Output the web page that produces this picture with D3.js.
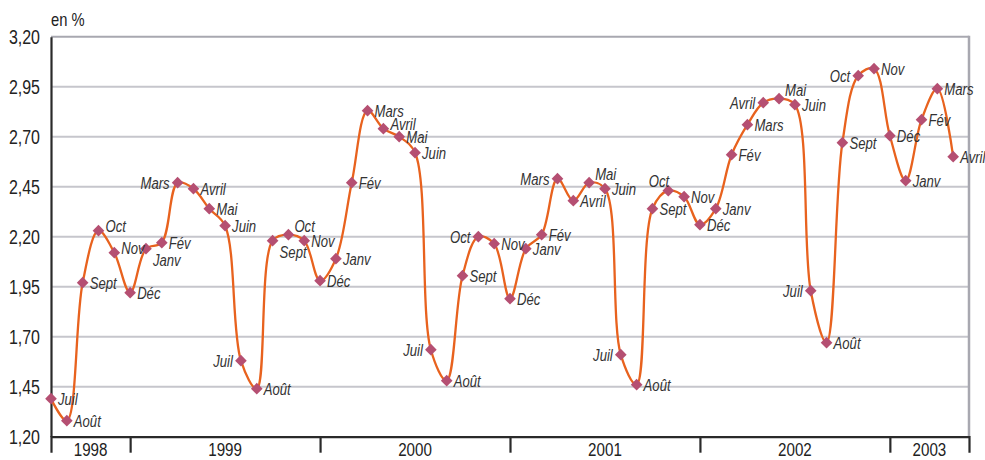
<!DOCTYPE html>
<html>
<head>
<meta charset="utf-8">
<script src="https://cdn.jsdelivr.net/npm/d3@7"></script>
<style>
  body { margin: 0; background: #fff; }
  svg { font-family: "Liberation Sans", Arial, sans-serif; }
</style>
</head>
<body>
<svg width="985" height="460"></svg>
<script>
// monthly values, Juil 1998 -> Avril 2003
const years = ['1998', '1999', '2000', '2001', '2002', '2003'];
const monthsPerYear = [6, 12, 12, 12, 12, 4];
const months = [
  'Juil', 'Août', 'Sept', 'Oct', 'Nov', 'Déc',
  'Janv', 'Fév', 'Mars', 'Avril', 'Mai', 'Juin', 'Juil', 'Août', 'Sept', 'Oct', 'Nov', 'Déc',
  'Janv', 'Fév', 'Mars', 'Avril', 'Mai', 'Juin', 'Juil', 'Août', 'Sept', 'Oct', 'Nov', 'Déc',
  'Janv', 'Fév', 'Mars', 'Avril', 'Mai', 'Juin', 'Juil', 'Août', 'Sept', 'Oct', 'Nov', 'Déc',
  'Janv', 'Fév', 'Mars', 'Avril', 'Mai', 'Juin', 'Juil', 'Août', 'Sept', 'Oct', 'Nov', 'Déc',
  'Janv', 'Fév', 'Mars', 'Avril'
];
const rates = [
  1.39, 1.28, 1.97, 2.23, 2.12, 1.92,
  2.14, 2.17, 2.47, 2.44, 2.34, 2.255, 1.58, 1.44, 2.18, 2.21, 2.18, 1.98,
  2.09, 2.47, 2.83, 2.74, 2.70, 2.62, 1.635, 1.48, 2.005, 2.20, 2.165, 1.89,
  2.14, 2.21, 2.49, 2.38, 2.47, 2.44, 1.61, 1.46, 2.34, 2.43, 2.40, 2.26,
  2.34, 2.61, 2.76, 2.87, 2.89, 2.86, 1.93, 1.67, 2.67, 3.005, 3.04, 2.705,
  2.48, 2.785, 2.94, 2.60
];
const yTicks = [1.20, 1.45, 1.70, 1.95, 2.20, 2.45, 2.70, 2.95, 3.20];

// where each month label sits around its marker
const labelPos = [
  'r', 'r', 'r', 'ru', 'ru', 'r',
  'rd', 'r', 'l', 'r', 'r', 'r', 'l', 'r', 'rd', 'a', 'r', 'r',
  'r', 'r', 'r', 'ru', 'r', 'r', 'l', 'r', 'r', 'l', 'r', 'r',
  'r', 'r', 'l', 'r', 'a', 'r', 'l', 'r', 'r', 'la', 'r', 'r',
  'r', 'r', 'r', 'l', 'a', 'r', 'l', 'r', 'r', 'l', 'r', 'r',
  'r', 'r', 'r', 'r'
];

const svg = d3.select('svg');
const margin = {left: 51, right: 969, top: 36.7, bottom: 436.7};
const narrow = 0.82; // squeeze Liberation Sans to look like a narrow face

const x = d3.scaleLinear().domain([0, months.length]).range([margin.left, margin.right]);
const y = d3.scaleLinear().domain([1.2, 3.2]).range([margin.bottom, margin.top]);

const fr = d3.formatLocale({decimal: ',', thousands: ' ', grouping: [3], currency: ['', '€']});
const fmt = fr.format('.2f');

// gridlines
svg.append('g')
  .selectAll('line')
  .data(yTicks.slice(1))
  .enter().append('line')
  .attr('x1', margin.left).attr('x2', margin.right)
  .attr('y1', d => y(d)).attr('y2', d => y(d))
  .attr('stroke', d => d === 3.2 ? '#a8a8b0' : '#c6c6cc')
  .attr('stroke-width', 2);

// right border
svg.append('line')
  .attr('x1', margin.right).attr('x2', margin.right)
  .attr('y1', margin.top - 1).attr('y2', margin.bottom)
  .attr('stroke', '#a8a8b0').attr('stroke-width', 2.5);

// y axis
const yAxis = d3.axisLeft(y).tickValues(yTicks).tickSize(0).tickFormat('');
const yg = svg.append('g').attr('transform', `translate(${margin.left},0)`).call(yAxis);
yg.select('.domain').attr('stroke', '#2a2a2a').attr('stroke-width', 2.2);

svg.append('g')
  .selectAll('text')
  .data(yTicks)
  .enter().append('text')
  .attr('transform', d => `translate(40,${y(d) + 7.5}) scale(${narrow},1)`)
  .attr('text-anchor', 'end')
  .attr('font-size', 19.5).attr('fill', '#222')
  .text(fmt);

svg.append('text')
  .attr('transform', `translate(${margin.left},26) scale(${narrow},1)`)
  .attr('font-size', 18).attr('fill', '#222')
  .text('en %');

// x axis: ticks at each December, year names between them
let acc = 0;
const yearEnds = monthsPerYear.map(n => (acc += n) - 1);
const dividers = yearEnds.slice(0, -1);
const spans = years.map((yr, i) => ({
  year: yr,
  from: i === 0 ? 0 : yearEnds[i - 1],
  to: i === years.length - 1 ? months.length : yearEnds[i]
}));

const xAxis = d3.axisBottom(x).tickValues(dividers).tickSize(16).tickFormat('');
const xg = svg.append('g').attr('transform', `translate(0,${margin.bottom})`).call(xAxis);
xg.select('.domain').attr('stroke', '#2a2a2a').attr('stroke-width', 2.2);
xg.selectAll('.tick line').attr('stroke', '#2a2a2a').attr('stroke-width', 2.2);

svg.append('g')
  .selectAll('text')
  .data(spans)
  .enter().append('text')
  .attr('transform', d => `translate(${(x(d.from) + x(d.to)) / 2},456) scale(${narrow},1)`)
  .attr('text-anchor', 'middle')
  .attr('font-size', 18.5).attr('fill', '#222')
  .text(d => d.year);

// curve
const line = d3.line()
  .x((d, i) => x(i))
  .y(d => y(d))
  .curve(d3.curveCatmullRom.alpha(0.5));

svg.append('path')
  .datum(rates)
  .attr('d', line)
  .attr('fill', 'none')
  .attr('stroke', '#e8621e')
  .attr('stroke-width', 2.3);

// markers
svg.append('g')
  .selectAll('path')
  .data(rates)
  .enter().append('path')
  .attr('d', d3.symbol(d3.symbolSquare, 68))
  .attr('transform', (d, i) => `translate(${x(i)},${y(d)}) rotate(45)`)
  .attr('fill', '#b54f72');

// month labels
const offsets = {
  r:  {dx: 7,  dy: 0,  anchor: 'start'},
  ru: {dx: 7,  dy: -5, anchor: 'start'},
  rd: {dx: 7,  dy: 11, anchor: 'start'},
  l:  {dx: -8, dy: 0,  anchor: 'end'},
  a:  {dx: 6,  dy: -9, anchor: 'start'},
  la: {dx: 1,  dy: -10, anchor: 'end'}
};

svg.append('g')
  .selectAll('text')
  .data(rates)
  .enter().append('text')
  .attr('transform', (d, i) => {
    const o = offsets[labelPos[i]];
    return `translate(${x(i) + o.dx},${y(d) + o.dy + 6}) scale(${narrow},1)`;
  })
  .attr('text-anchor', (d, i) => offsets[labelPos[i]].anchor)
  .attr('font-size', 16)
  .attr('font-style', 'italic')
  .attr('fill', '#333')
  .text((d, i) => months[i]);
</script>
</body>
</html>
